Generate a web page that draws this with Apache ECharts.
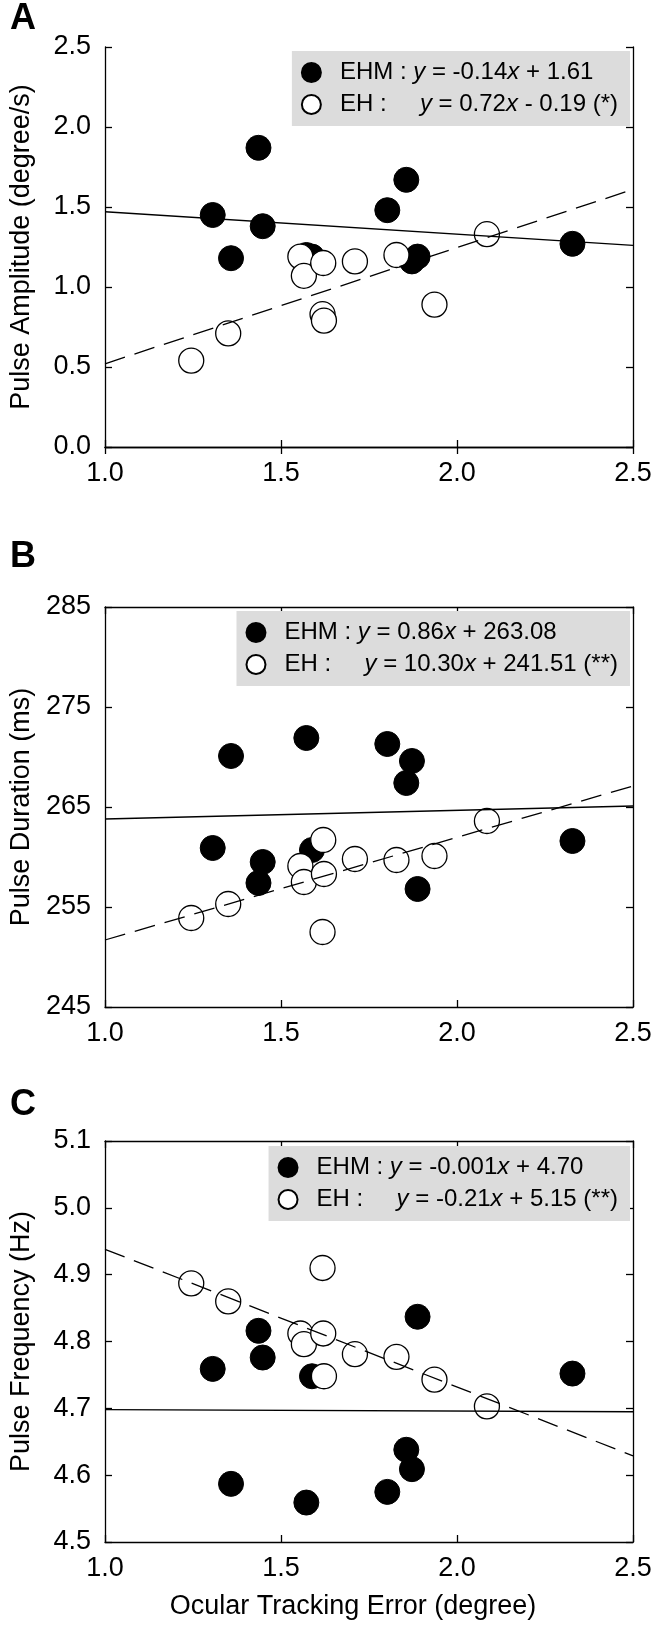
<!DOCTYPE html>
<html>
<head>
<meta charset="utf-8">
<script src="https://cdn.jsdelivr.net/npm/echarts@6/dist/echarts.min.js"></script>
<style>
html,body{margin:0;padding:0;background:#fff;}
#chart{width:658px;height:1631px;}
</style>
</head>
<body>
<div id="chart"></div>
<script>
// ---- data ----
const xEHM = [1.306, 1.358, 1.436, 1.448, 1.572, 1.588, 1.802, 1.856, 1.872, 1.888, 2.328];
const xEH  = [1.245, 1.350, 1.555, 1.565, 1.618, 1.620, 1.622, 1.710, 1.828, 1.936, 2.085];

const ampEHM  = [1.45, 1.18, 1.87, 1.38, 1.20, 1.19, 1.48, 1.67, 1.16, 1.19, 1.27];
const ampEH   = [0.54, 0.71, 1.19, 1.07, 0.83, 1.15, 0.79, 1.16, 1.20, 0.89, 1.33];
const durEHM  = [260.9, 270.1, 257.4, 259.5, 271.9, 260.7, 271.3, 267.4, 269.6, 256.8, 261.6];
const durEH   = [253.9, 255.3, 259.1, 257.5, 252.5, 261.7, 258.3, 259.8, 259.7, 260.1, 263.6];
const freqEHM = [4.759, 4.587, 4.816, 4.776, 4.559, 4.748, 4.575, 4.638, 4.609, 4.837, 4.752];
const freqEH  = [4.887, 4.860, 4.812, 4.796, 4.910, 4.812, 4.748, 4.781, 4.777, 4.743, 4.703];

// regression lines (end points)
const fitAmpEHM  = [[1.0, 1.47], [2.5, 1.26]];
const fitAmpEH   = [[1.0, 0.52], [2.5, 1.61]];
const fitDurEHM  = [[1.0, 263.8], [2.5, 265.1]];
const fitDurEH   = [[1.0, 251.7], [2.5, 267.1]];
const fitFreqEHM = [[1.0, 4.698], [2.5, 4.695]];
const fitFreqEH  = [[1.0, 4.938], [2.5, 4.629]];

const panelLetters = ['A', 'B', 'C'];
const yTitles = ['Pulse Amplitude (degree/s)', 'Pulse Duration (ms)', 'Pulse Frequency (Hz)'];
const xTitle = 'Ocular Tracking Error (degree)';
const legendEHM = ['EHM : {i|y} = -0.14{i|x} + 1.61', 'EHM : {i|y} = 0.86{i|x} + 263.08', 'EHM : {i|y} = -0.001{i|x} + 4.70'];
const legendEH  = ['EH :     {i|y} = 0.72{i|x} - 0.19 (*)', 'EH :     {i|y} = 10.30{i|x} + 241.51 (**)', 'EH :     {i|y} = -0.21{i|x} + 5.15 (**)'];
const yRanges = [[0, 2.5, 0.5, 1], [245, 285, 10, 0], [4.5, 5.1, 0.1, 1]];
const xRange = [1.0, 2.5, 0.5];

// ---- layout ----
const FONT = '"Liberation Sans", Arial, Helvetica, sans-serif';
const grids = [
  {left: 104, top: 47, width: 529, height: 400},
  {left: 103, top: 607, width: 530, height: 400},
  {left: 103, top: 1141, width: 530, height: 401}
];
const legendTops = [51, 611, 1146];
const letterY = [19, 557, 1105];

const yData = [[ampEHM, ampEH], [durEHM, durEH], [freqEHM, freqEH]];
const fits = [[fitAmpEHM, fitAmpEH], [fitDurEHM, fitDurEH], [fitFreqEHM, fitFreqEH]];

const zip = (xs, ys) => xs.map((x, i) => [x, ys[i]]);

const option = {
  animation: false,
  backgroundColor: '#fff',
  textStyle: {fontFamily: FONT},
  grid: [], xAxis: [], yAxis: [], series: [], legend: [], graphic: []
};

const axisLine = {show: true, lineStyle: {color: '#000', width: 1.3}};
const tick = {show: true, inside: true, length: 7, lineStyle: {color: '#000', width: 1.3}};

for (let p = 0; p < 3; p++) {
  option.grid.push(Object.assign({containLabel: false}, grids[p]));
  const [ymin, ymax, yint, dec] = yRanges[p];
  const xa = {
    type: 'value', gridIndex: p, min: xRange[0], max: xRange[1], interval: xRange[2],
    axisLine, axisTick: tick, splitLine: {show: false}
  };
  option.xAxis.push(Object.assign({}, xa, {
    position: 'bottom',
    axisLabel: {show: true, margin: 13, fontSize: 27, color: '#000', fontFamily: FONT,
      formatter: v => v.toFixed(1)},
    name: p === 2 ? xTitle : '', nameLocation: 'middle', nameGap: 51,
    nameTextStyle: {fontSize: 27, color: '#000', fontFamily: FONT, padding: [0, 32, 0, 0]}
  }));
  option.xAxis.push(Object.assign({}, xa, {position: 'top', axisLabel: {show: false}}));
  const ya = {
    type: 'value', gridIndex: p, min: ymin, max: ymax, interval: yint,
    axisLine, axisTick: tick, splitLine: {show: false}
  };
  option.yAxis.push(Object.assign({}, ya, {
    position: 'left',
    axisLabel: {show: true, margin: 14, fontSize: 27, color: '#000', fontFamily: FONT,
      formatter: v => v.toFixed(dec)},
    name: yTitles[p], nameLocation: 'middle', nameGap: 70,
    nameTextStyle: {fontSize: 27, color: '#000', fontFamily: FONT}
  }));
  option.yAxis.push(Object.assign({}, ya, {position: 'right', axisLabel: {show: false}}));

  const xi = 2 * p, yi = 2 * p;
  const nEHM = 'EHM ' + panelLetters[p], nEH = 'EH ' + panelLetters[p];
  option.series.push({
    name: nEHM, type: 'scatter', xAxisIndex: xi, yAxisIndex: yi, z: 2,
    symbol: 'circle', symbolSize: 25,
    itemStyle: {color: '#000', borderColor: '#000', borderWidth: 1, opacity: 1},
    data: zip(xEHM, yData[p][0])
  });
  option.series.push({
    name: nEH, type: 'scatter', xAxisIndex: xi, yAxisIndex: yi, z: 3,
    symbol: 'circle', symbolSize: 25,
    itemStyle: {color: '#fff', borderColor: '#000', borderWidth: 1.3, opacity: 1},
    data: zip(xEH, yData[p][1])
  });
  option.series.push({
    name: 'fit EHM ' + panelLetters[p], type: 'line', xAxisIndex: xi, yAxisIndex: yi, z: 4,
    showSymbol: false, symbol: 'none', silent: true,
    lineStyle: {color: '#000', width: 1.4, type: 'solid'},
    data: fits[p][0]
  });
  option.series.push({
    name: 'fit EH ' + panelLetters[p], type: 'line', xAxisIndex: xi, yAxisIndex: yi, z: 4,
    showSymbol: false, symbol: 'none', silent: true,
    lineStyle: {color: '#000', width: 1.3, type: [21, 10]},
    data: fits[p][1]
  });

  const texts = {};
  texts[nEHM] = '{sp| }' + legendEHM[p];
  texts[nEH] = '{sp| }' + legendEH[p];
  option.legend.push({
    right: 28, top: legendTops[p], orient: 'vertical',
    backgroundColor: '#dcdcdc', padding: [9, 12, 9, 9], itemGap: 7,
    itemWidth: 19, itemHeight: 19, selectedMode: false,
    data: [nEHM, nEH],
    textStyle: {fontSize: 24, lineHeight: 25, color: '#000', fontFamily: FONT,
      rich: {i: {fontStyle: 'italic', fontSize: 24, color: '#000', fontFamily: FONT},
             sp: {width: 14, fontSize: 24}}},
    formatter: n => texts[n]
  });

  option.graphic.push({
    type: 'text', left: 10, top: letterY[p] - 18, z: 10,
    style: {text: panelLetters[p], font: 'bold 36px ' + FONT, fill: '#000'}
  });
}

const chart = echarts.init(document.getElementById('chart'), null, {renderer: 'canvas'});
chart.setOption(option);
</script>
</body>
</html>
